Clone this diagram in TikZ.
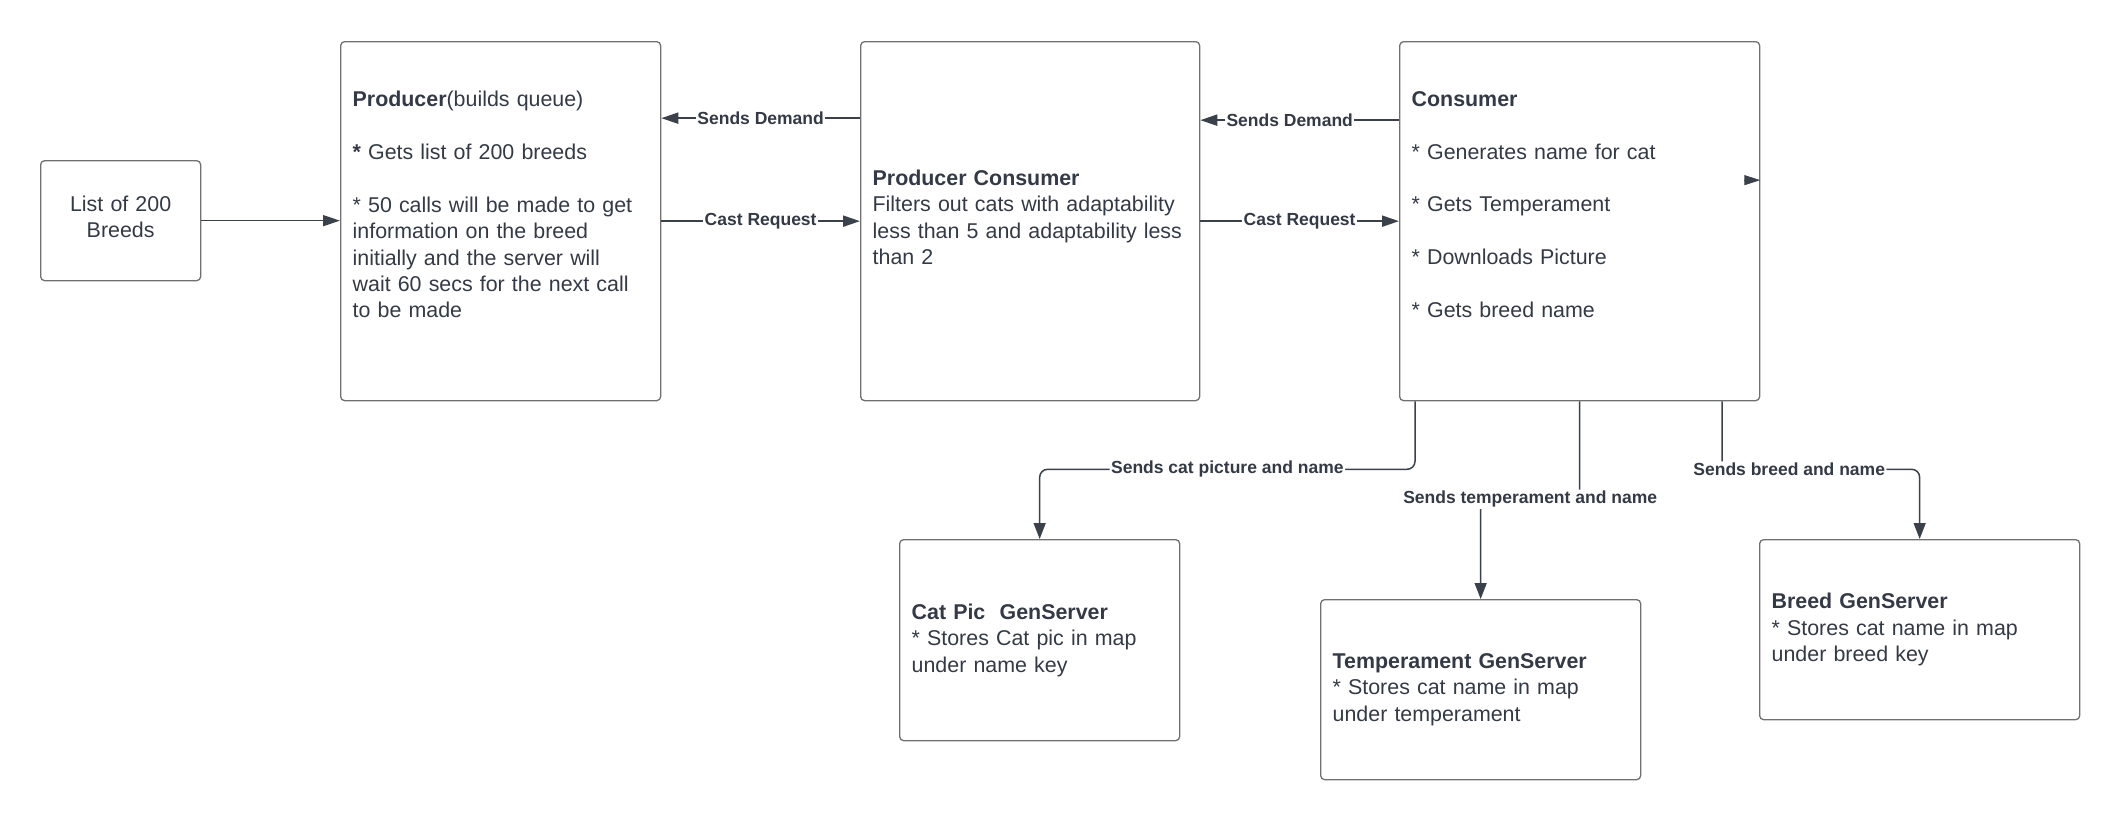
\documentclass[tikz,border=0pt]{standalone}
\usepackage{fontspec}
\setmainfont{Liberation Sans}
\usetikzlibrary{arrows.meta}
\definecolor{txt}{HTML}{333A45}
\definecolor{ln}{HTML}{3A414A}
\definecolor{bd}{HTML}{707070}
\begin{document}
\begin{tikzpicture}[x=1pt,y=-1pt,
  every node/.style={font=\fontsize{21.4}{26.4}\selectfont, text=txt},
  box/.style={draw=bd, line width=1.3pt, rounded corners=4pt, inner xsep=12pt, inner ysep=0pt, align=left, anchor=north west},
  lbl/.style={fill=white, font=\fontsize{17.5}{20}\selectfont\bfseries, inner sep=1.5pt, text=txt},
  conn/.style={draw=ln, line width=2pt, -{Triangle[length=17pt,width=11pt]}},
  connb/.style={draw=ln, line width=1.5pt, rounded corners=8pt, -{Triangle[length=16pt,width=12pt]}}]
\useasboundingbox (0,0) rectangle (2120,820);

\node[box, align=center, text width=136pt, minimum height=120pt] (list) at (40,160) {List of 200\\Breeds\strut};

\node[box, text width=296pt, minimum height=359pt] (prod) at (340,41)
 {\textbf{Producer}(builds queue)\\[26.4pt]
  \textbf{*} Gets list of 200 breeds\\[26.4pt]
  {*} 50 calls will be made to get\\information on the breed\\initially and the server will\\wait 60 secs for the next call\\to be made\\[7pt]\mbox{}};

\node[box, text width=315pt, minimum height=359pt] (pc) at (860,41)
 {\textbf{Producer Consumer}\\Filters out cats with adaptability\\less than 5 and adaptability less\\than 2\strut};

\node[box, text width=336pt, minimum height=359pt] (cons) at (1399,41)
 {\textbf{Consumer}\\[26.4pt]
  {*} Generates name for cat\\[26.4pt]
  {*} Gets Temperament\\[26.4pt]
  {*} Downloads Picture\\[26.4pt]
  {*} Gets breed name\\[7pt]\mbox{}};

\node[box, text width=256pt, minimum height=201pt] (catpic) at (899,539)
 {\textbf{Cat Pic\ \ GenServer}\\{*} Stores Cat pic in map\\under name key};

\node[box, text width=296pt, minimum height=180pt] (temp) at (1320,599)
 {\textbf{Temperament GenServer}\\{*} Stores cat name in map\\under temperament};

\node[box, text width=296pt, minimum height=180pt] (breed) at (1759,539)
 {\textbf{Breed GenServer}\\{*} Stores cat name in map\\under breed key};

% top connectors
\draw[conn, line width=1.5pt] (list.east) -- (prod.west |- list.east);
\draw[conn] ([yshift=103pt]pc.west) -- node[lbl]{Sends Demand} ([yshift=103pt]prod.east);
\draw[conn] (prod.east) -- node[lbl]{Cast Request} (pc.west);
\draw[conn] ([yshift=101pt]cons.west) -- node[lbl, pos=0.55]{Sends Demand} ([yshift=101pt]pc.east);
\draw[conn] (pc.east) -- node[lbl]{Cast Request} (cons.west);

\coordinate (stub) at ([shift={(-16pt,41pt)}]cons.east);
\draw[draw=ln, line width=1pt, -{Triangle[length=16pt,width=10pt]}] (stub) -- ([yshift=41pt]cons.east);

% bottom connectors
\draw[connb] ([xshift=16pt]cons.south west) -- ++(0,68) -| node[lbl, pos=0.25]{Sends cat picture and name} (catpic.north);
\draw[connb] (cons.south) -- ++(0,98) -| node[lbl, pos=0.25]{Sends temperament and name} (temp.north);
\draw[connb] ([xshift=323pt]cons.south west) -- ++(0,68) -| node[lbl, pos=0.17]{Sends breed and name} (breed.north);
\end{tikzpicture}
\end{document}
